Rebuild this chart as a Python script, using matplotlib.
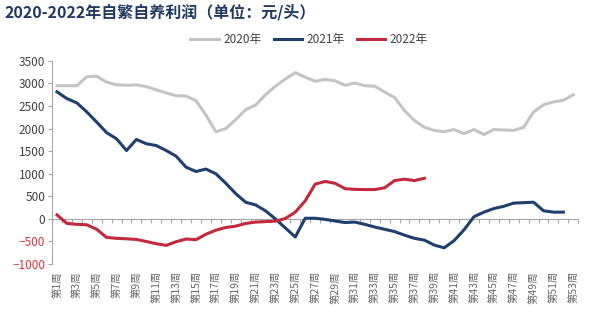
import matplotlib
matplotlib.use("Agg")
import matplotlib.pyplot as plt
import numpy as np

plt.rcParams['font.family'] = ['Noto Sans CJK SC', 'DejaVu Sans']

weeks = np.arange(1, 54)
week_labels = ["第%d周" % w for w in weeks]

profit_2020 = [2950, 2950, 2950, 3150, 3160, 3030, 2970, 2960, 2970, 2930,
               2860, 2790, 2730, 2720, 2620, 2300, 1930, 2000, 2200, 2420,
               2520, 2750, 2940, 3100, 3240, 3140, 3050, 3090, 3060, 2960,
               3010, 2950, 2940, 2810, 2690, 2400, 2180, 2030, 1960, 1930,
               1980, 1890, 1980, 1870, 1980, 1970, 1960, 2030, 2370, 2530,
               2590, 2630, 2750]
profit_2021 = [2815, 2665, 2570, 2370, 2145, 1910, 1775, 1515, 1760, 1665,
               1625, 1515, 1390, 1145, 1050, 1105, 1000, 790, 560, 370,
               310, 180, 0, -200, -400, 15, 15, -10, -45, -80,
               -70, -120, -180, -230, -280, -360, -430, -470, -580, -640,
               -480, -240, 50, 150, 230, 280, 350, 360, 370, 180,
               150, 150]
profit_2022 = [90, -100, -120, -130, -230, -410, -430, -440, -455, -500,
               -550, -585, -505, -445, -460, -340, -250, -190, -160, -100,
               -70, -60, -50, 10, 150, 400, 770, 830, 790, 670,
               655, 650, 650, 690, 850, 880, 850, 900]

fig = plt.figure(figsize=(5.98, 3.24), dpi=100)
ax = fig.add_axes([0.087, 0.185, 0.88, 0.627])

ax.plot(weeks, profit_2020, color="#c4c4c4", lw=2.2, label="2020年")
ax.plot(weeks[:len(profit_2021)], profit_2021, color="#1f3f6e", lw=2.2, label="2021年")
ax.plot(weeks[:len(profit_2022)], profit_2022, color="#c3283c", lw=2.2, label="2022年")

ax.set_xlim(0.5, 53.5)
ax.set_ylim(-1000, 3500)
ax.set_yticks(np.arange(-1000, 3501, 500))
ax.tick_params(axis="y", direction="out", length=3, color="#a6a6a6",
               labelsize=8.5, labelcolor="#404040", pad=2)
for t in ax.get_yticklabels():
    if t.get_text().startswith("−") or t.get_text().startswith("-"):
        t.set_color("#d9333f")

ax.set_xticks(weeks[::2])
ax.set_xticklabels(week_labels[::2], rotation=90, fontsize=7.5, color="#666666")
ax.tick_params(axis="x", length=0, pad=5)

for s in ["top", "right", "bottom"]:
    ax.spines[s].set_visible(False)
ax.spines["left"].set_color("#a6a6a6")

# zero line with category tick marks
zero = ax.secondary_xaxis(1000 / 4500)
zero.set_xticks(np.arange(0.5, 54, 1))
zero.set_xticklabels([])
zero.tick_params(direction="out", length=3, color="#a6a6a6")
zero.spines["bottom"].set_color("#a6a6a6")

fig.legend(loc="center", bbox_to_anchor=(0.517, 0.877), ncol=3, frameon=False,
           fontsize=8.5, handlelength=2.4, handletextpad=0.4, columnspacing=1.0,
           labelcolor="#404040")

fig.text(0.008, 0.962, "2020-2022年自繁自养利润（单位：元/头）", fontsize=11.5,
         fontweight="bold", color="#1f3864", va="center", ha="left")

fig.savefig("out.png", dpi=100)
